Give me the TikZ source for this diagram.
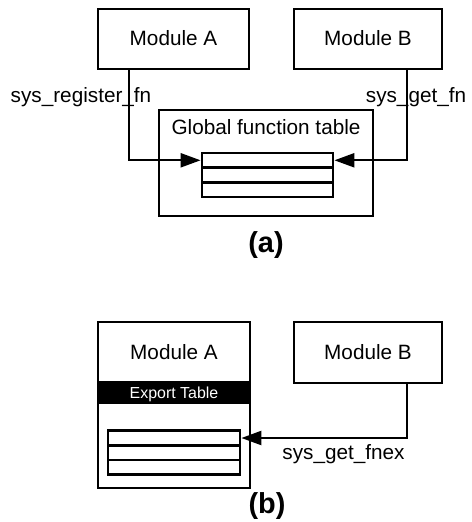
\documentclass[tikz,border=0pt]{standalone}
\usepackage{fontspec}
\setmainfont{Liberation Sans}
\usetikzlibrary{arrows.meta}
\begin{document}
\begin{tikzpicture}[x=1bp,y=-1bp,
  modbox/.style={draw,line width=2.3bp,inner sep=0pt},
  tabrow/.style={draw,line width=2.8bp,inner sep=0pt,minimum height=14.7bp},
  lbl/.style={inner sep=0pt,anchor=base,font=\fontsize{20.8}{24}\selectfont},
  caption/.style={inner sep=0pt,anchor=base,font=\fontsize{29}{32}\selectfont\bfseries},
  conn/.style={line width=2.3bp,-{Triangle[length=20bp,width=14bp]}}]
\useasboundingbox (0,0) rectangle (472,522);

% ---- (a) modules sharing a global function table ----
\node[modbox,minimum width=151bp,minimum height=60bp] (modA) at (173.5,39) {};
\node[lbl] at (173.5,46) {Module A};
\node[modbox,minimum width=148bp,minimum height=60bp] (modB) at (368,39) {};
\node[lbl] at (368,46) {Module B};

\node[modbox,minimum width=214bp,minimum height=106bp] (gft) at (266,163) {};
\node[lbl] at (266,135) {Global function table};

\node[tabrow,minimum width=131bp] (r1) at (267.5,160.3) {};
\node[tabrow,minimum width=131bp] (r2) at (267.5,175) {};
\node[tabrow,minimum width=131bp] (r3) at (267.5,189.7) {};

\draw[conn] ([xshift=-44.5bp]modA.south) |- (r1.west);
\draw[conn] ([xshift=39bp]modB.south) |- (r1.east);
\node[lbl] at (81,103) {sys\_register\_fn};
\node[lbl] at (416,103) {sys\_get\_fn};

\node[caption] at (266,252) {(a)};

% ---- (b) module with its own export table ----
\node[modbox,minimum width=152bp,minimum height=166bp] (mA) at (174,405) {};
\node[lbl] at (174,359) {Module A};
\node[fill=black,inner sep=0pt,minimum width=152bp,minimum height=23bp] (exp) at (174,392.5) {};
\node[inner sep=0pt,anchor=base,text=white,font=\fontsize{16}{19}\selectfont] at (174,398) {Export Table};

\node[tabrow,minimum width=132bp] (e1) at (174,438) {};
\node[tabrow,minimum width=132bp] (e2) at (174,452.7) {};
\node[tabrow,minimum width=132bp] (e3) at (174,467.4) {};

\node[modbox,minimum width=148bp,minimum height=61bp] (mB) at (368,352.5) {};
\node[lbl] at (368,359) {Module B};

\draw[conn] ([xshift=39bp]mB.south) |- (e1.east);
\node[lbl] at (343.5,459.5) {sys\_get\_fnex};

\node[caption] at (267,513) {(b)};
\end{tikzpicture}
\end{document}
